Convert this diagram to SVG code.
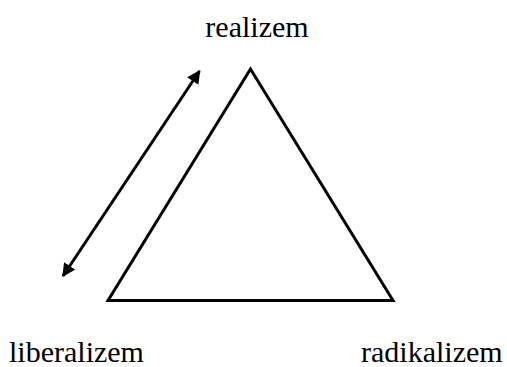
<svg xmlns="http://www.w3.org/2000/svg" width="507" height="367" viewBox="0 0 507 367">
<defs>
<style>
.lbl{font-family:"Liberation Serif","Times New Roman",serif;font-size:30px;fill:#000}
.edge{stroke:#000;stroke-width:3;fill:none}
</style>
<marker id="ah" viewBox="0 0 10 10" refX="9" refY="5" markerWidth="4.5" markerHeight="4.5" orient="auto-start-reverse" markerUnits="strokeWidth">
<path d="M0,0 L10,5 L0,10 z" fill="#000"/>
</marker>
</defs>
<rect width="507" height="367" fill="#fff"/>
<g id="triangle">
<polygon class="edge" points="250.5,69 108,300.5 393,300.5" stroke-linejoin="miter"/>
</g>
<g id="realizem"><text class="lbl" x="257" y="36.5" text-anchor="middle">realizem</text></g>
<g id="liberalizem"><text class="lbl" x="9" y="361.5">liberalizem</text></g>
<g id="radikalizem"><text class="lbl" x="361" y="361.5">radikalizem</text></g>
<g id="connectors">
<line class="edge" x1="63" y1="276" x2="199.5" y2="71" marker-start="url(#ah)" marker-end="url(#ah)"/>
</g>
</svg>
